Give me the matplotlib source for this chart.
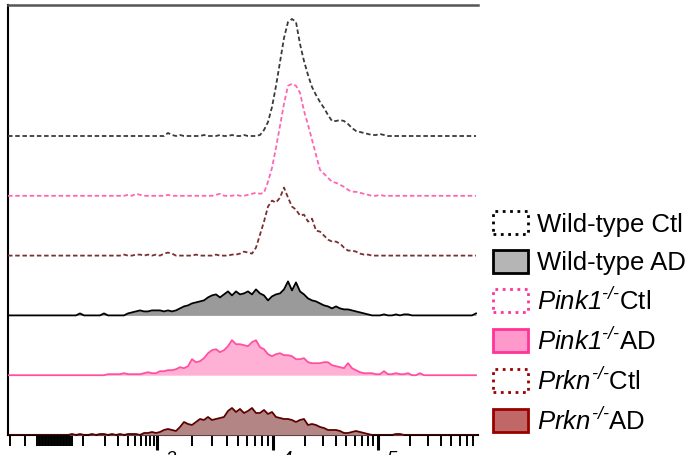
import numpy as np
import matplotlib.pyplot as plt
from matplotlib.patches import Patch

plt.rcParams['font.family'] = 'Liberation Sans'
plt.rcParams['mathtext.fontset'] = 'custom'
plt.rcParams['mathtext.rm'] = 'Liberation Sans:italic'
plt.rcParams['mathtext.it'] = 'Liberation Sans:italic'

# histogram bins (display channels), counts
channels = np.arange(0, 472, 4)

wt_ctl_start = 156
wt_ctl = [0, 3, 1, 0, 1, 0, 0, 0, 0, 0,
          1, 0, 0, 0, 1, 0, 0, 1, 0, 0,
          1, 0, 0, 0, 1, 6, 14, 29, 50, 74,
          98, 114, 117, 114, 92, 75, 61, 49, 41, 34,
          28, 21, 15, 15, 16, 15, 12, 8, 5, 4,
          3, 2, 1, 1, 2, 1, 0]

pink_ctl_start = 116
pink_ctl = [0, 1, 0, 2, 1, 0, 0, 0, 0, 0,
            0, 1, 0, 0, 0, 0, 0, 0, 0, 0,
            0, 0, 0, 1, 2, 0, 0, 0, 1, 0,
            0, 1, 2, 3, 2, 3, 14, 28, 48, 70,
            92, 110, 112, 110, 103, 85, 71, 56, 41, 26,
            22, 18, 14, 13, 11, 9, 6, 4, 4, 3,
            2, 1, 0, 0, 1, 0]

prkn_ctl_start = 116
prkn_ctl = [1, 0, 0, 1, 1, 0, 1, 0, 1, 0,
            2, 3, 2, 0, 0, 0, 0, 0, 1, 0,
            0, 0, 0, 1, 0, 0, 0, 1, 1, 2,
            4, 3, 2, 8, 21, 34, 49, 55, 53, 58,
            68, 58, 49, 46, 40, 41, 34, 37, 25, 24,
            20, 16, 14, 14, 12, 8, 5, 5, 4, 2,
            1, 1, 0]

wt_ad_start = 68
wt_ad = [0, 2, 0, 0, 0, 0, 0, 2, 0, 0,
         0, 0, 0, 2, 3, 4, 5, 4, 4, 5,
         5, 5, 4, 5, 4, 5, 7, 9, 10, 12,
         13, 14, 15, 18, 20, 21, 18, 21, 24, 20,
         24, 21, 22, 24, 21, 26, 22, 20, 15, 19,
         21, 22, 26, 34, 25, 33, 24, 21, 17, 15,
         14, 12, 10, 9, 7, 9, 7, 6, 6, 5,
         4, 3, 2, 1, 0, 0, 0, 1, 0, 0,
         1, 0, 1, 1, 0, 0, 0, 0, 0, 0,
         0, 0, 0, 0, 0, 0, 0, 0, 0, 0, 2]

pink_ad_start = 92
pink_ad = [0, 0, 1, 1, 1, 1, 2, 1, 1, 1,
           1, 2, 3, 2, 2, 4, 4, 5, 5, 6,
           8, 7, 9, 16, 13, 14, 17, 22, 25, 26,
           23, 25, 29, 35, 31, 31, 30, 29, 33, 35,
           28, 26, 21, 19, 21, 22, 20, 20, 19, 16,
           16, 17, 13, 12, 12, 12, 13, 13, 10, 9,
           8, 7, 12, 7, 5, 3, 2, 2, 2, 1,
           1, 4, 1, 1, 2, 1, 1, 2, 0, 0, 2, 0]

prkn_ad_start = 64
prkn_ad = [1, 0, 1, 0, 0, 1, 0, 1, 1, 0,
           1, 0, 1, 0, 1, 1, 1, 0, 2, 2,
           3, 2, 3, 5, 6, 5, 4, 8, 13, 11,
           10, 13, 16, 15, 18, 15, 16, 17, 18, 24,
           27, 23, 26, 22, 24, 27, 22, 22, 25, 21,
           23, 18, 17, 16, 16, 15, 13, 15, 16, 10,
           11, 10, 8, 7, 5, 5, 5, 4, 2, 2,
           3, 4, 3, 2, 1, 0, 0, 0, 0, 0, 0, 1, 1]

# decade positions on the biex display axis
decade_channels = {2: 75, 3: 149, 4: 265, 5: 370, 6: 475}
decade_labels = {3: r'$10^{3}$', 4: r'$10^{4}$', 5: r'$10^{5}$'}


def full_lane(start, values):
    y = np.zeros(len(channels))
    i0 = start // 4
    y[i0:i0 + len(values)] = values
    return y


lane_step = 59.8

# (values, start, line colour, fill colour, dashed)
lanes = [
    (wt_ctl, wt_ctl_start, '#3a3a3a', None, True),
    (pink_ctl, pink_ctl_start, '#ff66b2', None, True),
    (prkn_ctl, prkn_ctl_start, '#7b2f2f', None, True),
    (wt_ad, wt_ad_start, 'black', '#9a9a9a', False),
    (pink_ad, pink_ad_start, '#ff4fa0', '#ffb0d5', False),
    (prkn_ad, prkn_ad_start, '#5c0000', '#b38585', False),
]

fig = plt.figure(figsize=(6.91, 4.55), dpi=100)
ax = fig.add_axes([8 / 691, 20 / 455, 470 / 691, 430 / 455])

n = len(lanes)
for k, (vals, start, lc, fc, dashed) in enumerate(lanes):
    base = (n - 1 - k) * lane_step
    y = base + full_lane(start, vals)
    if fc is not None:
        ax.fill_between(channels, base, y, color=fc, lw=0, zorder=2 + k)
    ax.plot(channels, y, color=lc, lw=1.3,
            ls=(0, (2.5, 1.5)) if dashed else '-', zorder=3 + k)

ax.set_xlim(0, 470)
ax.set_ylim(0, 430)

# ticks
major = [decade_channels[d] for d in (3, 4, 5)]
minor = []
for d in (2, 3, 4, 5):
    a, b = decade_channels[d], decade_channels[d + 1]
    for m in range(1, 10):
        c = a + (b - a) * np.log10(m)
        if c <= 470:
            minor.append(c)
minor += [2, 17] + list(np.arange(29, 65, 1.5))
ax.set_xticks(major)
ax.set_xticklabels([decade_labels[d] for d in (3, 4, 5)], fontsize=19)
ax.set_xticks(minor, minor=True)
ax.tick_params(axis='x', which='major', length=11, width=2.2, direction='out', pad=2)
ax.tick_params(axis='x', which='minor', length=8, width=1.4, direction='out')
ax.set_yticks([])

ax.spines['right'].set_visible(False)
ax.spines['top'].set_color('#555555')
ax.spines['top'].set_linewidth(1.8)
ax.spines['left'].set_linewidth(1.5)
ax.spines['bottom'].set_linewidth(1.5)

handles = [
    Patch(facecolor='white', edgecolor='black', ls=':', lw=2),
    Patch(facecolor='#b5b5b5', edgecolor='black', lw=2),
    Patch(facecolor='white', edgecolor='#ff3399', ls=':', lw=2),
    Patch(facecolor='#ff99cc', edgecolor='#ff3399', lw=2),
    Patch(facecolor='white', edgecolor='#990000', ls=':', lw=2),
    Patch(facecolor='#c06868', edgecolor='#990000', lw=2),
]
labels = ['Wild-type Ctl', 'Wild-type AD',
          r'$Pink1^{\text{-/-}}$Ctl', r'$Pink1^{\text{-/-}}$AD',
          r'$Prkn^{\text{-/-}}$Ctl', r'$Prkn^{\text{-/-}}$AD']
fig.legend(handles, labels, loc='center left', bbox_to_anchor=(493 / 691, 1 - 323 / 455),
           frameon=False, fontsize=18.5, borderpad=0, borderaxespad=0,
           handlelength=1.35, handleheight=1.0, handletextpad=0.35, labelspacing=0.5)

fig.savefig('out.png', dpi=100)
